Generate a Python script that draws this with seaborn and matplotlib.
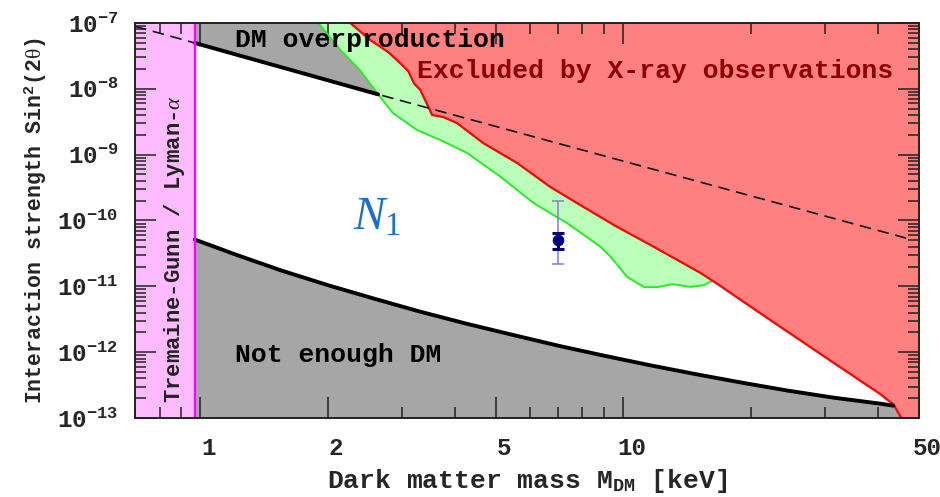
import numpy as np
import matplotlib
matplotlib.use("Agg")
import matplotlib.pyplot as plt
import matplotlib.transforms as mtransforms
from matplotlib.ticker import LogLocator, NullFormatter, FixedLocator, FixedFormatter
import seaborn as sns

# ---------------------------------------------------------------------------
# Sterile-neutrino dark matter parameter space: mass M_DM [keV] vs sin^2(2θ)
# ---------------------------------------------------------------------------

# Tremaine-Gunn / Lyman-alpha lower mass bound (keV)
tg_mass_bound = 0.97

# Thermal-production line: solid between bound and X-ray band, dashed elsewhere
overprod_mass = [0.7, 0.97, 2.63, 46.6]
overprod_sin2 = [8.9e-8, 4.97e-8, 8.24e-9, 5.4e-11]

# Minimal production line ("Not enough DM" below it)
lower_mass = [0.97, 1.212, 1.557, 2.002, 2.573, 3.307, 4.251, 5.435, 6.985,
              8.98, 11.54, 14.83, 19.06, 24.5, 31.49, 40.47, 43.45]
lower_sin2 = [5.13e-11, 3.03e-11, 1.73e-11, 1.04e-11, 6.5e-12, 4.12e-12,
              2.71e-12, 1.85e-12, 1.26e-12, 8.86e-13, 6.34e-13, 4.63e-13,
              3.44e-13, 2.6e-13, 2.03e-13, 1.65e-13, 1.54e-13]

# X-ray exclusion boundary
xray_mass = [2.26, 2.52, 2.78, 2.97, 3.1, 3.2, 3.31, 3.53, 3.75, 4.04, 4.66,
             5.61, 6.72, 8.05, 9.68, 11.6, 15.2, 16.4, 21.9, 31.5, 40.5, 43.5,
             45.4]
xray_sin2 = [1.0e-7, 5.5e-8, 3.6e-8, 2.44e-8, 1.85e-8, 1.2e-8, 9.6e-9, 4.0e-9,
             3.73e-9, 3.02e-9, 1.5e-9, 7.45e-10, 3.22e-10, 1.6e-10, 7.94e-11,
             4.23e-11, 1.6e-11, 1.17e-11, 3.29e-12, 6.8e-13, 2.3e-13,
             1.6e-13, 1.0e-13]

# Lower edge of the green band
band_mass = [1.9, 2.14, 2.38, 2.63, 2.85, 3.25, 3.69, 4.27, 5.12, 6.13, 7.36,
             8.83, 9.33, 10.2, 11.2, 12.0, 13.1, 14.4, 15.5, 16.2]
band_sin2 = [1.0e-7, 3.89e-8, 1.93e-8, 8.24e-9, 4.29e-9, 2.37e-9, 1.67e-9,
             1.06e-9, 4.61e-10, 1.84e-10, 9.1e-11, 3.98e-11, 2.8e-11, 1.39e-11,
             9.7e-12, 9.7e-12, 1.08e-11, 9.8e-12, 1.04e-11, 1.21e-11]

# Unidentified line measurement with inner and outer error ranges
line_mass = 7.0
line_sin2 = 5.0e-11
line_inner = [3.67e-11, 6.5e-11]
line_outer = [2.2e-11, 2.0e-10]

# Axis ranges and ticks
x_limits = [0.7, 50]
y_limits = [1e-13, 1e-7]
x_tick_values = [1, 2, 5, 10, 50]
x_tick_labels = ["1", "2", "5", "10", "50"]
y_tick_exponents = [-13, -12, -11, -10, -9, -8, -7]

# ---------------------------------------------------------------------------
sns.set_theme(style="ticks")
plt.rcParams.update({
    "font.family": ["Liberation Mono", "DejaVu Sans Mono"],
    "font.weight": "bold",
    "axes.labelweight": "bold",
    "mathtext.fontset": "custom",
    "mathtext.rm": "Liberation Mono:bold",
    "mathtext.bf": "Liberation Mono:bold",
    "mathtext.it": "Liberation Serif:style=italic:weight=normal",
    "mathtext.sf": "Liberation Serif:weight=normal",
    "axes.edgecolor": "#222222",
    "axes.linewidth": 1.4,
})

GRAY = "#A6A6A6"
PINK = "#FFBBFF"
RED_FILL = "#FF8080"
GREEN_FILL = "#BBFFBB"

fig = plt.figure(figsize=(9.4, 4.97), dpi=100)
ax = fig.add_axes([0.1436, 0.159, 0.8341, 0.7947])
ax.set_xscale("log")
ax.set_yscale("log")
ax.set_xlim(*x_limits)
ax.set_ylim(*y_limits)
ax.set_axisbelow(False)

ymin, ymax = y_limits
xmin, xmax = x_limits

lm = np.array(lower_mass)
ls_ = np.array(lower_sin2)
xm = np.array(xray_mass)
xs = np.array(xray_sin2)
bm = np.array(band_mass)
bs = np.array(band_sin2)
om = np.array(overprod_mass)
os_ = np.array(overprod_sin2)

# Tremaine-Gunn / Lyman-alpha excluded strip
ax.axvspan(xmin, tg_mass_bound, color=PINK, lw=0, zorder=1)

# "Not enough DM" region below the minimal production line
ax.fill(np.r_[lm, xm[-1], lm[0]], np.r_[ls_, xs[-1], ymin],
        color=GRAY, lw=0, zorder=1)

# "DM overproduction" region above the thermal line, left of the band
seg = bm <= om[2]
ax.fill(np.r_[om[1], om[1], om[2], bm[seg][::-1]],
        np.r_[ymax, os_[1], os_[2], bs[seg][::-1]],
        color=GRAY, lw=0, zorder=1)

# X-ray exclusion region
ax.fill(np.r_[xm, xmax, xmax], np.r_[xs, ymin, ymax],
        color=RED_FILL, lw=0, zorder=2)

# Green band between its lower edge and the X-ray boundary
inside = xm <= bm[-1]
ax.fill(np.r_[bm, xm[inside][::-1]], np.r_[bs, xs[inside][::-1]],
        color=GREEN_FILL, lw=0, zorder=2)

# Boundary curves
sns.lineplot(x=bm, y=bs, color="#22EE22", lw=1.4, ax=ax, zorder=3)
sns.lineplot(x=xm, y=xs, color="#FF0000", lw=1.6, ax=ax, zorder=3)
sns.lineplot(x=om, y=os_, color="#111111", lw=1.2, ls=(0, (7, 4)),
             ax=ax, zorder=3)
sns.lineplot(x=om[1:3], y=os_[1:3], color="black", lw=2.8, ax=ax, zorder=3)
sns.lineplot(x=lm, y=ls_, color="black", lw=2.8, ax=ax, zorder=3)
ax.axvline(tg_mass_bound, color="#FF00FF", lw=1.6, zorder=3)

# Line measurement with error bars
ax.errorbar([line_mass], [line_sin2],
            yerr=[[line_sin2 - line_outer[0]], [line_outer[1] - line_sin2]],
            fmt="none", ecolor="#8080C8", elinewidth=1.1, capsize=4,
            capthick=1.1, zorder=5)
ax.errorbar([line_mass], [line_sin2],
            yerr=[[line_sin2 - line_inner[0]], [line_inner[1] - line_sin2]],
            fmt="none", ecolor="#000080", elinewidth=2.2, capsize=4.5,
            capthick=2.2, zorder=5)
sns.scatterplot(x=[line_mass], y=[line_sin2], color="#000080", s=60,
                edgecolor="#000080", ax=ax, zorder=6)

# Region annotations
ax.text(1.205, 4.36e-8, "DM overproduction", fontsize=19, color="black",
        ha="left", va="baseline", zorder=7)
ax.text(3.25, 1.48e-8, "Excluded by X-ray observations", fontsize=19,
        color="#8E0000", ha="left", va="baseline", zorder=7)
ax.text(1.205, 7.13e-13, "Not enough DM", fontsize=19, color="black",
        ha="left", va="baseline", zorder=7)
ax.text(0.893, 1.68e-13, r"Tremaine-Gunn / Lyman-$\alpha$", fontsize=16,
        rotation=90, rotation_mode="anchor", ha="left", va="baseline",
        color="#222222", zorder=7)
ax.text(2.295, 7.15e-11, r"$N_{\mathsf{1}}$", fontsize=34, color="#1E6EC8",
        ha="left", va="baseline", zorder=7)

# Ticks
ax.xaxis.set_major_locator(FixedLocator(x_tick_values))
ax.xaxis.set_major_formatter(FixedFormatter(x_tick_labels))
ax.xaxis.set_minor_locator(LogLocator(base=10, subs=np.arange(2, 10)))
ax.xaxis.set_minor_formatter(NullFormatter())
ax.yaxis.set_major_locator(FixedLocator([10.0 ** e for e in y_tick_exponents]))
ax.yaxis.set_major_formatter(FixedFormatter(
    [r"$\mathdefault{10^{%d}}$" % e for e in y_tick_exponents]))
ax.yaxis.set_minor_locator(LogLocator(base=10, subs=np.arange(2, 10), numticks=20))
ax.yaxis.set_minor_formatter(NullFormatter())
ax.tick_params(which="both", direction="in", top=True, right=True,
               color="#222222", width=1.1)
ax.tick_params(which="major", length=15, labelsize=17.5)
ax.tick_params(axis="y", which="major", pad=12)
ax.tick_params(axis="x", which="major", pad=14)
ax.tick_params(which="minor", length=8)

shift = mtransforms.ScaledTranslation(0.08, 0, fig.dpi_scale_trans)
for lab in ax.get_xticklabels():
    lab.set_transform(lab.get_transform() + shift)

ax.set_xlabel(r"Dark matter mass M$_{\mathrm{DM}}$ [keV]", fontsize=19,
              labelpad=5)
ax.set_ylabel(r"Interaction strength Sin$^{2}$(2$\mathsf{\theta}$)",
              fontsize=15.5, labelpad=6)

for sp in ax.spines.values():
    sp.set_zorder(8)

fig.savefig("out.png", dpi=100, facecolor="white")
